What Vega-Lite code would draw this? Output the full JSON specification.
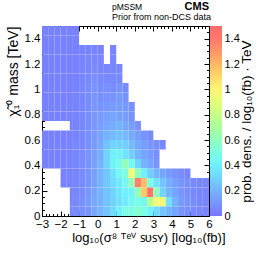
{
"$schema": "https://vega.github.io/schema/vega-lite/v6.json",
"width": 167, "height": 190,
"autosize": {"type": "none"},
"padding": {"left": 42, "top": 26, "right": 57, "bottom": 39},
"background": "white",
"config": {
  "font": "Liberation Sans",
  "view": {"stroke": "black", "strokeWidth": 1},
  "axis": {"labelFont": "Liberation Sans", "titleFont": "Liberation Sans", "labelColor": "black", "titleColor": "black", "tickColor": "black", "domainColor": "black", "grid": false, "titleFontWeight": "normal", "labelFlush": false, "labelOverlap": false}
},
"layer": [
 {"resolve": {"axis": {"x": "independent", "y": "independent"}},
  "layer": [
  {"data": {"values": [
{"x0":-3,"x1":-2.6667,"y0":1.425,"y1":1.5,"v":0.03},
{"x0":-2.6667,"x1":-2.3333,"y0":1.425,"y1":1.5,"v":0.03},
{"x0":-2.3333,"x1":-2,"y0":1.425,"y1":1.5,"v":0.03},
{"x0":-2,"x1":-1.6667,"y0":1.425,"y1":1.5,"v":0.03},
{"x0":-1.6667,"x1":-1.3333,"y0":1.425,"y1":1.5,"v":0.03},
{"x0":-1.3333,"x1":-1,"y0":1.425,"y1":1.5,"v":0.03},
{"x0":-3,"x1":-2.6667,"y0":1.35,"y1":1.425,"v":0.03},
{"x0":-2.6667,"x1":-2.3333,"y0":1.35,"y1":1.425,"v":0.03},
{"x0":-2.3333,"x1":-2,"y0":1.35,"y1":1.425,"v":0.03},
{"x0":-2,"x1":-1.6667,"y0":1.35,"y1":1.425,"v":0.03},
{"x0":-1.6667,"x1":-1.3333,"y0":1.35,"y1":1.425,"v":0.03},
{"x0":-1.3333,"x1":-1,"y0":1.35,"y1":1.425,"v":0.03},
{"x0":-3,"x1":-2.6667,"y0":1.275,"y1":1.35,"v":0.03},
{"x0":-2.6667,"x1":-2.3333,"y0":1.275,"y1":1.35,"v":0.03},
{"x0":-2.3333,"x1":-2,"y0":1.275,"y1":1.35,"v":0.03},
{"x0":-2,"x1":-1.6667,"y0":1.275,"y1":1.35,"v":0.03},
{"x0":-1.6667,"x1":-1.3333,"y0":1.275,"y1":1.35,"v":0.03},
{"x0":-1.3333,"x1":-1,"y0":1.275,"y1":1.35,"v":0.03},
{"x0":-1,"x1":-0.6667,"y0":1.275,"y1":1.35,"v":0.04},
{"x0":-0.6667,"x1":-0.3333,"y0":1.275,"y1":1.35,"v":0.04},
{"x0":-0.3333,"x1":0,"y0":1.275,"y1":1.35,"v":0.04},
{"x0":0,"x1":0.3333,"y0":1.275,"y1":1.35,"v":0.04},
{"x0":0.6667,"x1":1,"y0":1.275,"y1":1.35,"v":0.04},
{"x0":-3,"x1":-2.6667,"y0":1.2,"y1":1.275,"v":0.03},
{"x0":-2.6667,"x1":-2.3333,"y0":1.2,"y1":1.275,"v":0.03},
{"x0":-2.3333,"x1":-2,"y0":1.2,"y1":1.275,"v":0.03},
{"x0":-2,"x1":-1.6667,"y0":1.2,"y1":1.275,"v":0.03},
{"x0":-1.6667,"x1":-1.3333,"y0":1.2,"y1":1.275,"v":0.03},
{"x0":-1.3333,"x1":-1,"y0":1.2,"y1":1.275,"v":0.03},
{"x0":-1,"x1":-0.6667,"y0":1.2,"y1":1.275,"v":0.04},
{"x0":-0.6667,"x1":-0.3333,"y0":1.2,"y1":1.275,"v":0.05},
{"x0":-0.3333,"x1":0,"y0":1.2,"y1":1.275,"v":0.05},
{"x0":0,"x1":0.3333,"y0":1.2,"y1":1.275,"v":0.05},
{"x0":0.6667,"x1":1,"y0":1.2,"y1":1.275,"v":0.05},
{"x0":-3,"x1":-2.6667,"y0":1.125,"y1":1.2,"v":0.03},
{"x0":-2.6667,"x1":-2.3333,"y0":1.125,"y1":1.2,"v":0.03},
{"x0":-2.3333,"x1":-2,"y0":1.125,"y1":1.2,"v":0.03},
{"x0":-2,"x1":-1.6667,"y0":1.125,"y1":1.2,"v":0.03},
{"x0":-1.6667,"x1":-1.3333,"y0":1.125,"y1":1.2,"v":0.03},
{"x0":-1.3333,"x1":-1,"y0":1.125,"y1":1.2,"v":0.03},
{"x0":-1,"x1":-0.6667,"y0":1.125,"y1":1.2,"v":0.05},
{"x0":-0.6667,"x1":-0.3333,"y0":1.125,"y1":1.2,"v":0.05},
{"x0":-0.3333,"x1":0,"y0":1.125,"y1":1.2,"v":0.07},
{"x0":0,"x1":0.3333,"y0":1.125,"y1":1.2,"v":0.05},
{"x0":0.3333,"x1":0.6667,"y0":1.125,"y1":1.2,"v":0.05},
{"x0":0.6667,"x1":1,"y0":1.125,"y1":1.2,"v":0.05},
{"x0":1,"x1":1.3333,"y0":1.125,"y1":1.2,"v":0.05},
{"x0":-3,"x1":-2.6667,"y0":1.05,"y1":1.125,"v":0.03},
{"x0":-2.6667,"x1":-2.3333,"y0":1.05,"y1":1.125,"v":0.03},
{"x0":-2.3333,"x1":-2,"y0":1.05,"y1":1.125,"v":0.03},
{"x0":-2,"x1":-1.6667,"y0":1.05,"y1":1.125,"v":0.03},
{"x0":-1.6667,"x1":-1.3333,"y0":1.05,"y1":1.125,"v":0.03},
{"x0":-1.3333,"x1":-1,"y0":1.05,"y1":1.125,"v":0.03},
{"x0":-1,"x1":-0.6667,"y0":1.05,"y1":1.125,"v":0.05},
{"x0":-0.6667,"x1":-0.3333,"y0":1.05,"y1":1.125,"v":0.06},
{"x0":-0.3333,"x1":0,"y0":1.05,"y1":1.125,"v":0.08},
{"x0":0,"x1":0.3333,"y0":1.05,"y1":1.125,"v":0.06},
{"x0":0.3333,"x1":0.6667,"y0":1.05,"y1":1.125,"v":0.06},
{"x0":0.6667,"x1":1,"y0":1.05,"y1":1.125,"v":0.06},
{"x0":1,"x1":1.3333,"y0":1.05,"y1":1.125,"v":0.06},
{"x0":-3,"x1":-2.6667,"y0":0.975,"y1":1.05,"v":0.03},
{"x0":-2.6667,"x1":-2.3333,"y0":0.975,"y1":1.05,"v":0.03},
{"x0":-2.3333,"x1":-2,"y0":0.975,"y1":1.05,"v":0.03},
{"x0":-2,"x1":-1.6667,"y0":0.975,"y1":1.05,"v":0.03},
{"x0":-1.6667,"x1":-1.3333,"y0":0.975,"y1":1.05,"v":0.03},
{"x0":-1.3333,"x1":-1,"y0":0.975,"y1":1.05,"v":0.04},
{"x0":-1,"x1":-0.6667,"y0":0.975,"y1":1.05,"v":0.05},
{"x0":-0.6667,"x1":-0.3333,"y0":0.975,"y1":1.05,"v":0.07},
{"x0":-0.3333,"x1":0,"y0":0.975,"y1":1.05,"v":0.1},
{"x0":0,"x1":0.3333,"y0":0.975,"y1":1.05,"v":0.07},
{"x0":0.3333,"x1":0.6667,"y0":0.975,"y1":1.05,"v":0.08},
{"x0":0.6667,"x1":1,"y0":0.975,"y1":1.05,"v":0.07},
{"x0":1,"x1":1.3333,"y0":0.975,"y1":1.05,"v":0.1},
{"x0":1.3333,"x1":1.6667,"y0":0.975,"y1":1.05,"v":0.07},
{"x0":-3,"x1":-2.6667,"y0":0.9,"y1":0.975,"v":0.03},
{"x0":-2.6667,"x1":-2.3333,"y0":0.9,"y1":0.975,"v":0.03},
{"x0":-2.3333,"x1":-2,"y0":0.9,"y1":0.975,"v":0.03},
{"x0":-2,"x1":-1.6667,"y0":0.9,"y1":0.975,"v":0.03},
{"x0":-1.6667,"x1":-1.3333,"y0":0.9,"y1":0.975,"v":0.03},
{"x0":-1.3333,"x1":-1,"y0":0.9,"y1":0.975,"v":0.04},
{"x0":-1,"x1":-0.6667,"y0":0.9,"y1":0.975,"v":0.05},
{"x0":-0.6667,"x1":-0.3333,"y0":0.9,"y1":0.975,"v":0.07},
{"x0":-0.3333,"x1":0,"y0":0.9,"y1":0.975,"v":0.1},
{"x0":0,"x1":0.3333,"y0":0.9,"y1":0.975,"v":0.08},
{"x0":0.3333,"x1":0.6667,"y0":0.9,"y1":0.975,"v":0.09},
{"x0":0.6667,"x1":1,"y0":0.9,"y1":0.975,"v":0.09},
{"x0":1,"x1":1.3333,"y0":0.9,"y1":0.975,"v":0.12},
{"x0":1.3333,"x1":1.6667,"y0":0.9,"y1":0.975,"v":0.09},
{"x0":-3,"x1":-2.6667,"y0":0.825,"y1":0.9,"v":0.03},
{"x0":-2.6667,"x1":-2.3333,"y0":0.825,"y1":0.9,"v":0.03},
{"x0":-2.3333,"x1":-2,"y0":0.825,"y1":0.9,"v":0.03},
{"x0":-2,"x1":-1.6667,"y0":0.825,"y1":0.9,"v":0.03},
{"x0":-1.6667,"x1":-1.3333,"y0":0.825,"y1":0.9,"v":0.04},
{"x0":-1.3333,"x1":-1,"y0":0.825,"y1":0.9,"v":0.04},
{"x0":-1,"x1":-0.6667,"y0":0.825,"y1":0.9,"v":0.05},
{"x0":-0.6667,"x1":-0.3333,"y0":0.825,"y1":0.9,"v":0.07},
{"x0":-0.3333,"x1":0,"y0":0.825,"y1":0.9,"v":0.11},
{"x0":0,"x1":0.3333,"y0":0.825,"y1":0.9,"v":0.1},
{"x0":0.3333,"x1":0.6667,"y0":0.825,"y1":0.9,"v":0.11},
{"x0":0.6667,"x1":1,"y0":0.825,"y1":0.9,"v":0.12},
{"x0":1,"x1":1.3333,"y0":0.825,"y1":0.9,"v":0.13},
{"x0":1.3333,"x1":1.6667,"y0":0.825,"y1":0.9,"v":0.12},
{"x0":1.6667,"x1":2,"y0":0.825,"y1":0.9,"v":0.08},
{"x0":-3,"x1":-2.6667,"y0":0.75,"y1":0.825,"v":0.03},
{"x0":-2.6667,"x1":-2.3333,"y0":0.75,"y1":0.825,"v":0.03},
{"x0":-2.3333,"x1":-2,"y0":0.75,"y1":0.825,"v":0.03},
{"x0":-2,"x1":-1.6667,"y0":0.75,"y1":0.825,"v":0.03},
{"x0":-1.6667,"x1":-1.3333,"y0":0.75,"y1":0.825,"v":0.04},
{"x0":-1.3333,"x1":-1,"y0":0.75,"y1":0.825,"v":0.04},
{"x0":-1,"x1":-0.6667,"y0":0.75,"y1":0.825,"v":0.06},
{"x0":-0.6667,"x1":-0.3333,"y0":0.75,"y1":0.825,"v":0.08},
{"x0":-0.3333,"x1":0,"y0":0.75,"y1":0.825,"v":0.11},
{"x0":0,"x1":0.3333,"y0":0.75,"y1":0.825,"v":0.12},
{"x0":0.3333,"x1":0.6667,"y0":0.75,"y1":0.825,"v":0.14},
{"x0":0.6667,"x1":1,"y0":0.75,"y1":0.825,"v":0.15},
{"x0":1,"x1":1.3333,"y0":0.75,"y1":0.825,"v":0.14},
{"x0":1.3333,"x1":1.6667,"y0":0.75,"y1":0.825,"v":0.13},
{"x0":1.6667,"x1":2,"y0":0.75,"y1":0.825,"v":0.09},
{"x0":-1.5,"x1":-1.3333,"y0":0.675,"y1":0.75,"v":0.04},
{"x0":-1.3333,"x1":-1,"y0":0.675,"y1":0.75,"v":0.04},
{"x0":-1,"x1":-0.6667,"y0":0.675,"y1":0.75,"v":0.06},
{"x0":-0.6667,"x1":-0.3333,"y0":0.675,"y1":0.75,"v":0.08},
{"x0":-0.3333,"x1":0,"y0":0.675,"y1":0.75,"v":0.11},
{"x0":0,"x1":0.3333,"y0":0.675,"y1":0.75,"v":0.13},
{"x0":0.3333,"x1":0.6667,"y0":0.675,"y1":0.75,"v":0.16},
{"x0":0.6667,"x1":1,"y0":0.675,"y1":0.75,"v":0.18},
{"x0":1,"x1":1.3333,"y0":0.675,"y1":0.75,"v":0.2},
{"x0":1.3333,"x1":1.6667,"y0":0.675,"y1":0.75,"v":0.16},
{"x0":1.6667,"x1":2,"y0":0.675,"y1":0.75,"v":0.13},
{"x0":2,"x1":2.3333,"y0":0.675,"y1":0.75,"v":0.09},
{"x0":-3,"x1":-2.6667,"y0":0.6,"y1":0.675,"v":0.03},
{"x0":-2.6667,"x1":-2.3333,"y0":0.6,"y1":0.675,"v":0.03},
{"x0":-2.3333,"x1":-2,"y0":0.6,"y1":0.675,"v":0.03},
{"x0":-2,"x1":-1.6667,"y0":0.6,"y1":0.675,"v":0.03},
{"x0":-1.6667,"x1":-1.3333,"y0":0.6,"y1":0.675,"v":0.04},
{"x0":-1.3333,"x1":-1,"y0":0.6,"y1":0.675,"v":0.04},
{"x0":-1,"x1":-0.6667,"y0":0.6,"y1":0.675,"v":0.06},
{"x0":-0.6667,"x1":-0.3333,"y0":0.6,"y1":0.675,"v":0.08},
{"x0":-0.3333,"x1":0,"y0":0.6,"y1":0.675,"v":0.11},
{"x0":0,"x1":0.3333,"y0":0.6,"y1":0.675,"v":0.15},
{"x0":0.3333,"x1":0.6667,"y0":0.6,"y1":0.675,"v":0.2},
{"x0":0.6667,"x1":1,"y0":0.6,"y1":0.675,"v":0.22},
{"x0":1,"x1":1.3333,"y0":0.6,"y1":0.675,"v":0.24},
{"x0":1.3333,"x1":1.6667,"y0":0.6,"y1":0.675,"v":0.22},
{"x0":1.6667,"x1":2,"y0":0.6,"y1":0.675,"v":0.17},
{"x0":2,"x1":2.3333,"y0":0.6,"y1":0.675,"v":0.13},
{"x0":2.3333,"x1":2.6667,"y0":0.6,"y1":0.675,"v":0.1},
{"x0":2.6667,"x1":3,"y0":0.6,"y1":0.675,"v":0.07},
{"x0":-3,"x1":-2.6667,"y0":0.525,"y1":0.6,"v":0.03},
{"x0":-2.6667,"x1":-2.3333,"y0":0.525,"y1":0.6,"v":0.03},
{"x0":-2.3333,"x1":-2,"y0":0.525,"y1":0.6,"v":0.03},
{"x0":-2,"x1":-1.6667,"y0":0.525,"y1":0.6,"v":0.03},
{"x0":-1.6667,"x1":-1.3333,"y0":0.525,"y1":0.6,"v":0.04},
{"x0":-1.3333,"x1":-1,"y0":0.525,"y1":0.6,"v":0.05},
{"x0":-1,"x1":-0.6667,"y0":0.525,"y1":0.6,"v":0.06},
{"x0":-0.6667,"x1":-0.3333,"y0":0.525,"y1":0.6,"v":0.08},
{"x0":-0.3333,"x1":0,"y0":0.525,"y1":0.6,"v":0.12},
{"x0":0,"x1":0.3333,"y0":0.525,"y1":0.6,"v":0.16},
{"x0":0.3333,"x1":0.6667,"y0":0.525,"y1":0.6,"v":0.25},
{"x0":0.6667,"x1":1,"y0":0.525,"y1":0.6,"v":0.3},
{"x0":1,"x1":1.3333,"y0":0.525,"y1":0.6,"v":0.3},
{"x0":1.3333,"x1":1.6667,"y0":0.525,"y1":0.6,"v":0.28},
{"x0":1.6667,"x1":2,"y0":0.525,"y1":0.6,"v":0.22},
{"x0":2,"x1":2.3333,"y0":0.525,"y1":0.6,"v":0.16},
{"x0":2.3333,"x1":2.6667,"y0":0.525,"y1":0.6,"v":0.13},
{"x0":2.6667,"x1":3,"y0":0.525,"y1":0.6,"v":0.1},
{"x0":3,"x1":3.3333,"y0":0.525,"y1":0.6,"v":0.08},
{"x0":3.3333,"x1":3.6667,"y0":0.525,"y1":0.6,"v":0.06},
{"x0":-3,"x1":-2.6667,"y0":0.45,"y1":0.525,"v":0.03},
{"x0":-2.6667,"x1":-2.3333,"y0":0.45,"y1":0.525,"v":0.03},
{"x0":-2.3333,"x1":-2,"y0":0.45,"y1":0.525,"v":0.03},
{"x0":-2,"x1":-1.6667,"y0":0.45,"y1":0.525,"v":0.03},
{"x0":-1.6667,"x1":-1.3333,"y0":0.45,"y1":0.525,"v":0.04},
{"x0":-1.3333,"x1":-1,"y0":0.45,"y1":0.525,"v":0.05},
{"x0":-1,"x1":-0.6667,"y0":0.45,"y1":0.525,"v":0.07},
{"x0":-0.6667,"x1":-0.3333,"y0":0.45,"y1":0.525,"v":0.09},
{"x0":-0.3333,"x1":0,"y0":0.45,"y1":0.525,"v":0.13},
{"x0":0,"x1":0.3333,"y0":0.45,"y1":0.525,"v":0.18},
{"x0":0.3333,"x1":0.6667,"y0":0.45,"y1":0.525,"v":0.3},
{"x0":0.6667,"x1":1,"y0":0.45,"y1":0.525,"v":0.4},
{"x0":1,"x1":1.3333,"y0":0.45,"y1":0.525,"v":0.42},
{"x0":1.3333,"x1":1.6667,"y0":0.45,"y1":0.525,"v":0.35},
{"x0":1.6667,"x1":2,"y0":0.45,"y1":0.525,"v":0.28},
{"x0":2,"x1":2.3333,"y0":0.45,"y1":0.525,"v":0.2},
{"x0":2.3333,"x1":2.6667,"y0":0.45,"y1":0.525,"v":0.15},
{"x0":2.6667,"x1":3,"y0":0.45,"y1":0.525,"v":0.12},
{"x0":3,"x1":3.3333,"y0":0.45,"y1":0.525,"v":0.08},
{"x0":-3,"x1":-2.6667,"y0":0.375,"y1":0.45,"v":0.03},
{"x0":-2.6667,"x1":-2.3333,"y0":0.375,"y1":0.45,"v":0.03},
{"x0":-2.3333,"x1":-2,"y0":0.375,"y1":0.45,"v":0.03},
{"x0":-2,"x1":-1.6667,"y0":0.375,"y1":0.45,"v":0.03},
{"x0":-1.6667,"x1":-1.3333,"y0":0.375,"y1":0.45,"v":0.04},
{"x0":-1.3333,"x1":-1,"y0":0.375,"y1":0.45,"v":0.05},
{"x0":-1,"x1":-0.6667,"y0":0.375,"y1":0.45,"v":0.07},
{"x0":-0.6667,"x1":-0.3333,"y0":0.375,"y1":0.45,"v":0.1},
{"x0":-0.3333,"x1":0,"y0":0.375,"y1":0.45,"v":0.14},
{"x0":0,"x1":0.3333,"y0":0.375,"y1":0.45,"v":0.2},
{"x0":0.3333,"x1":0.6667,"y0":0.375,"y1":0.45,"v":0.3},
{"x0":0.6667,"x1":1,"y0":0.375,"y1":0.45,"v":0.42},
{"x0":1,"x1":1.3333,"y0":0.375,"y1":0.45,"v":0.48},
{"x0":1.3333,"x1":1.6667,"y0":0.375,"y1":0.45,"v":0.62},
{"x0":1.6667,"x1":2,"y0":0.375,"y1":0.45,"v":0.45},
{"x0":2,"x1":2.3333,"y0":0.375,"y1":0.45,"v":0.3},
{"x0":2.3333,"x1":2.6667,"y0":0.375,"y1":0.45,"v":0.2},
{"x0":2.6667,"x1":3,"y0":0.375,"y1":0.45,"v":0.15},
{"x0":3,"x1":3.3333,"y0":0.375,"y1":0.45,"v":0.1},
{"x0":-2,"x1":-1.6667,"y0":0.3,"y1":0.375,"v":0.04},
{"x0":-1.6667,"x1":-1.3333,"y0":0.3,"y1":0.375,"v":0.04},
{"x0":-1.3333,"x1":-1,"y0":0.3,"y1":0.375,"v":0.05},
{"x0":-1,"x1":-0.6667,"y0":0.3,"y1":0.375,"v":0.07},
{"x0":-0.6667,"x1":-0.3333,"y0":0.3,"y1":0.375,"v":0.1},
{"x0":-0.3333,"x1":0,"y0":0.3,"y1":0.375,"v":0.14},
{"x0":0,"x1":0.3333,"y0":0.3,"y1":0.375,"v":0.2},
{"x0":0.3333,"x1":0.6667,"y0":0.3,"y1":0.375,"v":0.26},
{"x0":0.6667,"x1":1,"y0":0.3,"y1":0.375,"v":0.35},
{"x0":1,"x1":1.3333,"y0":0.3,"y1":0.375,"v":0.45},
{"x0":1.3333,"x1":1.6667,"y0":0.3,"y1":0.375,"v":0.5},
{"x0":1.6667,"x1":2,"y0":0.3,"y1":0.375,"v":0.95},
{"x0":2,"x1":2.3333,"y0":0.3,"y1":0.375,"v":0.6},
{"x0":2.3333,"x1":2.6667,"y0":0.3,"y1":0.375,"v":0.4},
{"x0":2.6667,"x1":3,"y0":0.3,"y1":0.375,"v":0.28},
{"x0":3,"x1":3.3333,"y0":0.3,"y1":0.375,"v":0.2},
{"x0":3.3333,"x1":3.6667,"y0":0.3,"y1":0.375,"v":0.15},
{"x0":3.6667,"x1":4,"y0":0.3,"y1":0.375,"v":0.12},
{"x0":4,"x1":4.3333,"y0":0.3,"y1":0.375,"v":0.09},
{"x0":4.3333,"x1":4.6667,"y0":0.3,"y1":0.375,"v":0.07},
{"x0":4.6667,"x1":5,"y0":0.3,"y1":0.375,"v":0.05},
{"x0":-2,"x1":-1.6667,"y0":0.225,"y1":0.3,"v":0.04},
{"x0":-1.6667,"x1":-1.3333,"y0":0.225,"y1":0.3,"v":0.04},
{"x0":-1.3333,"x1":-1,"y0":0.225,"y1":0.3,"v":0.05},
{"x0":-1,"x1":-0.6667,"y0":0.225,"y1":0.3,"v":0.07},
{"x0":-0.6667,"x1":-0.3333,"y0":0.225,"y1":0.3,"v":0.1},
{"x0":-0.3333,"x1":0,"y0":0.225,"y1":0.3,"v":0.14},
{"x0":0,"x1":0.3333,"y0":0.225,"y1":0.3,"v":0.2},
{"x0":0.3333,"x1":0.6667,"y0":0.225,"y1":0.3,"v":0.26},
{"x0":0.6667,"x1":1,"y0":0.225,"y1":0.3,"v":0.32},
{"x0":1,"x1":1.3333,"y0":0.225,"y1":0.3,"v":0.38},
{"x0":1.3333,"x1":1.6667,"y0":0.225,"y1":0.3,"v":0.45},
{"x0":1.6667,"x1":2,"y0":0.225,"y1":0.3,"v":0.62},
{"x0":2,"x1":2.3333,"y0":0.225,"y1":0.3,"v":1.38},
{"x0":2.3333,"x1":2.6667,"y0":0.225,"y1":0.3,"v":1.18},
{"x0":2.6667,"x1":3,"y0":0.225,"y1":0.3,"v":0.5},
{"x0":3,"x1":3.3333,"y0":0.225,"y1":0.3,"v":0.35},
{"x0":3.3333,"x1":3.6667,"y0":0.225,"y1":0.3,"v":0.25},
{"x0":3.6667,"x1":4,"y0":0.225,"y1":0.3,"v":0.18},
{"x0":4,"x1":4.3333,"y0":0.225,"y1":0.3,"v":0.14},
{"x0":4.3333,"x1":4.6667,"y0":0.225,"y1":0.3,"v":0.1},
{"x0":4.6667,"x1":5,"y0":0.225,"y1":0.3,"v":0.08},
{"x0":5,"x1":5.3333,"y0":0.225,"y1":0.3,"v":0.06},
{"x0":5.3333,"x1":5.6667,"y0":0.225,"y1":0.3,"v":0.05},
{"x0":5.6667,"x1":6,"y0":0.225,"y1":0.3,"v":0.05},
{"x0":-1.5,"x1":-1.3333,"y0":0.15,"y1":0.225,"v":0.04},
{"x0":-1.3333,"x1":-1,"y0":0.15,"y1":0.225,"v":0.05},
{"x0":-1,"x1":-0.6667,"y0":0.15,"y1":0.225,"v":0.07},
{"x0":-0.6667,"x1":-0.3333,"y0":0.15,"y1":0.225,"v":0.11},
{"x0":-0.3333,"x1":0,"y0":0.15,"y1":0.225,"v":0.15},
{"x0":0,"x1":0.3333,"y0":0.15,"y1":0.225,"v":0.2},
{"x0":0.3333,"x1":0.6667,"y0":0.15,"y1":0.225,"v":0.25},
{"x0":0.6667,"x1":1,"y0":0.15,"y1":0.225,"v":0.3},
{"x0":1,"x1":1.3333,"y0":0.15,"y1":0.225,"v":0.36},
{"x0":1.3333,"x1":1.6667,"y0":0.15,"y1":0.225,"v":0.4},
{"x0":1.6667,"x1":2,"y0":0.15,"y1":0.225,"v":0.42},
{"x0":2,"x1":2.3333,"y0":0.15,"y1":0.225,"v":0.62},
{"x0":2.3333,"x1":2.6667,"y0":0.15,"y1":0.225,"v":1.15},
{"x0":2.6667,"x1":3,"y0":0.15,"y1":0.225,"v":1.45},
{"x0":3,"x1":3.3333,"y0":0.15,"y1":0.225,"v":0.62},
{"x0":3.3333,"x1":3.6667,"y0":0.15,"y1":0.225,"v":0.3},
{"x0":3.6667,"x1":4,"y0":0.15,"y1":0.225,"v":0.2},
{"x0":4,"x1":4.3333,"y0":0.15,"y1":0.225,"v":0.15},
{"x0":4.3333,"x1":4.6667,"y0":0.15,"y1":0.225,"v":0.1},
{"x0":4.6667,"x1":5,"y0":0.15,"y1":0.225,"v":0.08},
{"x0":5,"x1":5.3333,"y0":0.15,"y1":0.225,"v":0.06},
{"x0":5.3333,"x1":5.6667,"y0":0.15,"y1":0.225,"v":0.05},
{"x0":5.6667,"x1":6,"y0":0.15,"y1":0.225,"v":0.05},
{"x0":-1.5,"x1":-1.3333,"y0":0.075,"y1":0.15,"v":0.05},
{"x0":-1.3333,"x1":-1,"y0":0.075,"y1":0.15,"v":0.06},
{"x0":-1,"x1":-0.6667,"y0":0.075,"y1":0.15,"v":0.08},
{"x0":-0.6667,"x1":-0.3333,"y0":0.075,"y1":0.15,"v":0.12},
{"x0":-0.3333,"x1":0,"y0":0.075,"y1":0.15,"v":0.16},
{"x0":0,"x1":0.3333,"y0":0.075,"y1":0.15,"v":0.2},
{"x0":0.3333,"x1":0.6667,"y0":0.075,"y1":0.15,"v":0.25},
{"x0":0.6667,"x1":1,"y0":0.075,"y1":0.15,"v":0.3},
{"x0":1,"x1":1.3333,"y0":0.075,"y1":0.15,"v":0.35},
{"x0":1.3333,"x1":1.6667,"y0":0.075,"y1":0.15,"v":0.38},
{"x0":1.6667,"x1":2,"y0":0.075,"y1":0.15,"v":0.45},
{"x0":2,"x1":2.3333,"y0":0.075,"y1":0.15,"v":0.5},
{"x0":2.3333,"x1":2.6667,"y0":0.075,"y1":0.15,"v":0.45},
{"x0":2.6667,"x1":3,"y0":0.075,"y1":0.15,"v":0.75},
{"x0":3,"x1":3.3333,"y0":0.075,"y1":0.15,"v":0.95},
{"x0":3.3333,"x1":3.6667,"y0":0.075,"y1":0.15,"v":0.98},
{"x0":3.6667,"x1":4,"y0":0.075,"y1":0.15,"v":0.35},
{"x0":4,"x1":4.3333,"y0":0.075,"y1":0.15,"v":0.2},
{"x0":4.3333,"x1":4.6667,"y0":0.075,"y1":0.15,"v":0.12},
{"x0":4.6667,"x1":5,"y0":0.075,"y1":0.15,"v":0.09},
{"x0":5,"x1":5.3333,"y0":0.075,"y1":0.15,"v":0.07},
{"x0":5.3333,"x1":5.6667,"y0":0.075,"y1":0.15,"v":0.05},
{"x0":5.6667,"x1":6,"y0":0.075,"y1":0.15,"v":0.05},
{"x0":-1.5,"x1":-1.3333,"y0":0,"y1":0.075,"v":0.05},
{"x0":-1.3333,"x1":-1,"y0":0,"y1":0.075,"v":0.06},
{"x0":-1,"x1":-0.6667,"y0":0,"y1":0.075,"v":0.08},
{"x0":-0.6667,"x1":-0.3333,"y0":0,"y1":0.075,"v":0.1},
{"x0":-0.3333,"x1":0,"y0":0,"y1":0.075,"v":0.15},
{"x0":0,"x1":0.3333,"y0":0,"y1":0.075,"v":0.2},
{"x0":0.3333,"x1":0.6667,"y0":0,"y1":0.075,"v":0.25},
{"x0":0.6667,"x1":1,"y0":0,"y1":0.075,"v":0.32},
{"x0":1,"x1":1.3333,"y0":0,"y1":0.075,"v":0.4},
{"x0":1.3333,"x1":1.6667,"y0":0,"y1":0.075,"v":0.5},
{"x0":1.6667,"x1":2,"y0":0,"y1":0.075,"v":0.5},
{"x0":2,"x1":2.3333,"y0":0,"y1":0.075,"v":0.55},
{"x0":2.3333,"x1":2.6667,"y0":0,"y1":0.075,"v":0.5},
{"x0":2.6667,"x1":3,"y0":0,"y1":0.075,"v":0.4},
{"x0":3,"x1":3.3333,"y0":0,"y1":0.075,"v":0.32},
{"x0":3.3333,"x1":3.6667,"y0":0,"y1":0.075,"v":0.25},
{"x0":3.6667,"x1":4,"y0":0,"y1":0.075,"v":0.2},
{"x0":4,"x1":4.3333,"y0":0,"y1":0.075,"v":0.15},
{"x0":4.3333,"x1":4.6667,"y0":0,"y1":0.075,"v":0.1},
{"x0":4.6667,"x1":5,"y0":0,"y1":0.075,"v":0.08},
{"x0":5,"x1":5.3333,"y0":0,"y1":0.075,"v":0.06},
{"x0":5.3333,"x1":5.6667,"y0":0,"y1":0.075,"v":0.05},
{"x0":5.6667,"x1":6,"y0":0,"y1":0.075,"v":0.05}
  ]},
  "mark": {"type": "rect"},
  "encoding": {
    "x": {"field": "x0", "type": "quantitative", "scale": {"domain": [-3, 6], "nice": false, "zero": false},
      "axis": {"orient": "bottom", "values": [-3,-2,-1,0,1,2,3,4,5,6], "format": "d", "labelFontSize": 11.5, "tickSize": -5, "labelPadding": 7, "domain": false, "labelOverlap": false, "labelFlush": false,
        "title": "log₁₀(σ⁸ ᵀᵉⱽ ꜱᴜꜱʏ) [log₁₀(fb)]", "titleFontSize": 13, "titleAnchor": "end", "titleX": 183, "titlePadding": 2}},
    "x2": {"field": "x1"},
    "y": {"field": "y0", "type": "quantitative", "scale": {"domain": [0, 1.5], "nice": false, "zero": false},
      "axis": {"orient": "left", "values": [0,0.2,0.4,0.6,0.8,1,1.2,1.4], "format": "~g", "labelFontSize": 11.5, "tickSize": -5, "labelPadding": 7, "domain": false, "labelOverlap": false, "labelFlush": false,
        "title": "χ̃₁⁰ mass [TeV]", "titleFontSize": 14, "titleAnchor": "end", "titlePadding": 4}},
    "y2": {"field": "y1"},
    "color": {"field": "v", "type": "quantitative",
      "scale": {"domain": [0,0.1,0.2,0.3,0.4,0.5,0.6,0.7,0.8,0.9,1.0,1.1,1.2,1.3,1.4,1.5],
        "range": ["#7878ff","#7895ff","#74b4ff","#70d4ff","#6ff0ff","#7affe4","#8effbe","#aaff9c","#c6ff86","#e4ff78","#fff573","#ffd86a","#ffb863","#ff9668","#ff786e","#ff6b6b"], "interpolate": "rgb"},
      "legend": {"type": "gradient", "orient": "none", "legendX": 168, "legendY": 0, "direction": "vertical", "gradientLength": 190, "gradientThickness": 12, "title": null, "labelOpacity": 0, "labelFontSize": 1, "padding": 0, "gradientStrokeWidth": 0}}
  }},
  {"data": {"values": [{"label": "pMSSM"}]},
   "mark": {"type": "text", "align": "left", "baseline": "alphabetic", "fontSize": 8.5, "font": "Liberation Sans", "color": "black"},
   "encoding": {
     "x": {"datum": 0.77, "axis": {"orient": "bottom", "values": [-2.8,-2.6,-2.4,-2.2,-1.8,-1.6,-1.4,-1.2,-0.8,-0.6,-0.4,-0.2,0.2,0.4,0.6,0.8,1.2,1.4,1.6,1.8,2.2,2.4,2.6,2.8,3.2,3.4,3.6,3.8,4.2,4.4,4.6,4.8,5.2,5.4,5.6,5.8], "labels": false, "domain": false, "tickSize": -2.5, "title": null}},
     "y": {"datum": 1.63, "axis": {"orient": "left", "values": [0.05,0.1,0.15,0.25,0.3,0.35,0.45,0.5,0.55,0.65,0.7,0.75,0.85,0.9,0.95,1.05,1.1,1.15,1.25,1.3,1.35,1.45], "labels": false, "domain": false, "tickSize": -2.5, "title": null}},
     "text": {"field": "label"}}},
  {"data": {"values": [{"label": "Prior from non-DCS data"}]},
   "mark": {"type": "text", "align": "left", "baseline": "alphabetic", "fontSize": 9, "font": "Liberation Sans", "color": "black"},
   "encoding": {
     "x": {"datum": 0.77, "axis": {"orient": "top", "values": [-2.8,-2.6,-2.4,-2.2,-1.8,-1.6,-1.4,-1.2,-0.8,-0.6,-0.4,-0.2,0.2,0.4,0.6,0.8,1.2,1.4,1.6,1.8,2.2,2.4,2.6,2.8,3.2,3.4,3.6,3.8,4.2,4.4,4.6,4.8,5.2,5.4,5.6,5.8], "labels": false, "domain": false, "tickSize": -2.5, "title": null}},
     "y": {"datum": 1.55, "axis": {"orient": "right", "values": [0.05,0.1,0.15,0.25,0.3,0.35,0.45,0.5,0.55,0.65,0.7,0.75,0.85,0.9,0.95,1.05,1.1,1.15,1.25,1.3,1.35,1.45], "labels": false, "domain": false, "tickSize": -2.5, "title": null}},
     "text": {"field": "label"}}},
  {"data": {"values": [{"label": "CMS"}]},
   "mark": {"type": "text", "align": "right", "baseline": "alphabetic", "fontSize": 11, "fontWeight": "bold", "font": "Liberation Sans", "color": "black"},
   "encoding": {
     "x": {"datum": 6, "axis": {"orient": "top", "values": [-3,-2,-1,0,1,2,3,4,5,6], "labels": false, "domain": false, "tickSize": -5, "title": null}},
     "y": {"datum": 1.63, "axis": {"orient": "right", "values": [0,0.2,0.4,0.6,0.8,1,1.2,1.4], "labels": false, "domain": false, "tickSize": -5, "title": null}},
     "text": {"field": "label"}}}
 ]},
 {"data": {"values": [{"p": 0}]},
  "mark": {"type": "tick", "opacity": 0},
  "encoding": {"y": {"field": "p", "type": "quantitative", "scale": {"domain": [0, 1.5], "nice": false, "zero": false},
    "axis": {"orient": "right", "values": [0,0.2,0.4,0.6,0.8,1,1.2,1.4], "format": "~g", "labels": true, "labelFontSize": 11, "labelPadding": 15, "labelFlush": false, "labelOverlap": false, "ticks": false, "domain": false, "grid": false,
      "title": "prob. dens. / log₁₀(fb) · TeV", "titleAngle": 270, "titlePadding": 14, "titleFontSize": 13.5, "titleAnchor": "middle"}}}}
],
"resolve": {"scale": {"y": "independent"}}
}
